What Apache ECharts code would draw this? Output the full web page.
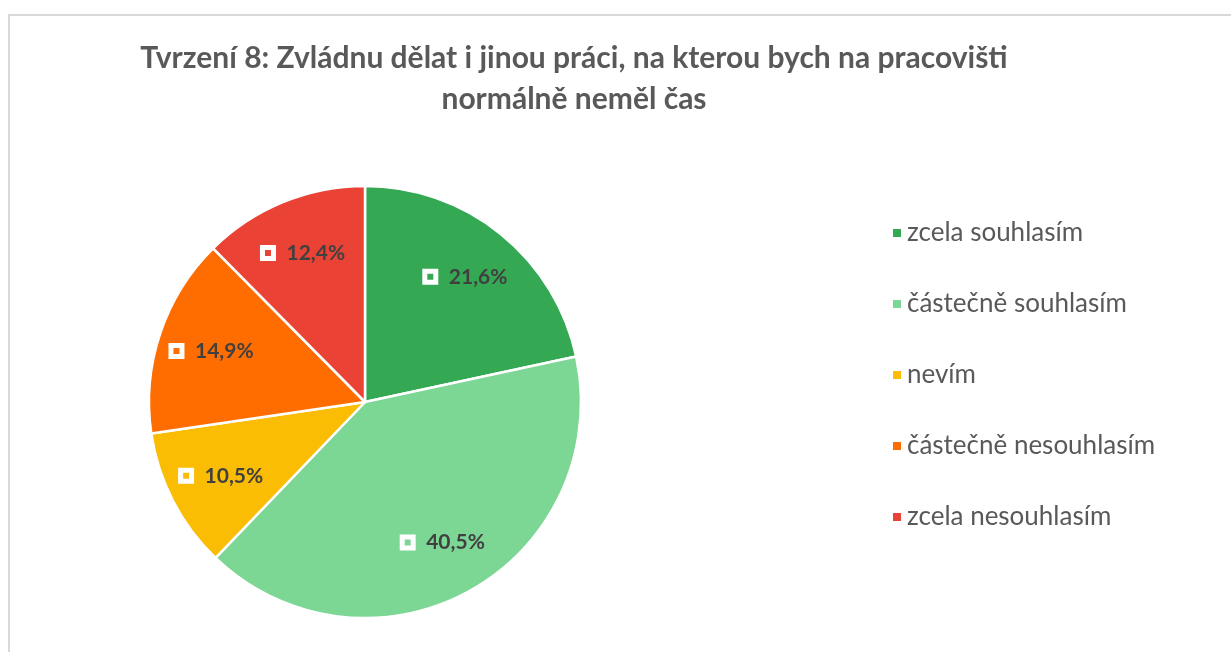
<!DOCTYPE html>
<html>
<head>
<meta charset="utf-8">
<script src="https://cdn.jsdelivr.net/npm/echarts@6/dist/echarts.min.js"></script>
<style>
  * { margin: 0; padding: 0; }
  html, body { width: 1231px; height: 652px; background: #fff; overflow: hidden; }
  #chart { width: 1231px; height: 652px; }
</style>
</head>
<body>
<div id="chart"></div>
<script>
const categories = ['zcela souhlasím', 'částečně souhlasím', 'nevím', 'částečně nesouhlasím', 'zcela nesouhlasím']
const values = [21.6, 40.5, 10.5, 14.9, 12.4]
const colors = ['#34A853', '#7CD694', '#FBBC04', '#FF6D01', '#EA4335']

const data = categories.map((name, i) => ({ name, value: values[i] }))
const fmt = v => v.toFixed(1).replace('.', ',') + '%'

const chart = echarts.init(document.getElementById('chart'))
chart.setOption({
  color: colors,
  animation: false,
  title: {
    text: 'Tvrzení 8: Zvládnu dělat i jinou práci, na kterou bych na pracovišti\nnormálně neměl čas',
    left: 574,
    top: 38,
    textAlign: 'center',
    padding: 0,
    textStyle: {
      fontFamily: 'Lato',
      fontWeight: 'bold',
      fontSize: 30,
      lineHeight: 41,
      color: '#595959'
    }
  },
  legend: {
    orient: 'vertical',
    left: 891,
    top: 220,
    padding: 0,
    itemWidth: 10,
    itemHeight: 10,
    itemGap: 45,
    icon: 'rect',
    data: categories,
    textStyle: {
      fontFamily: 'Lato',
      fontSize: 26,
      lineHeight: 26,
      color: '#595959'
    }
  },
  graphic: [{
    type: 'rect',
    shape: { x: 9, y: 15, width: 1240, height: 660 },
    style: { fill: 'none', stroke: '#d9d9d9', lineWidth: 2 },
    silent: true
  }],
  series: [
    {
      type: 'pie',
      center: [365, 402],
      radius: [0, 216],
      startAngle: 90,
      clockwise: true,
      data: data,
      itemStyle: { borderColor: '#fff', borderWidth: 2.5 },
      label: { show: false },
      labelLine: { show: false },
      emphasis: { disabled: true }
    },
    {
      // invisible helper ring, only used to place the labels further out
      type: 'pie',
      center: [365, 402],
      radius: [0, 316],
      startAngle: 90,
      clockwise: true,
      silent: true,
      legendHoverLink: false,
      data: data,
      itemStyle: { color: 'transparent', borderWidth: 0 },
      labelLine: { show: false },
      emphasis: { disabled: true },
      label: {
        show: true,
        position: 'inside',
        formatter: p => '{b| }{v|' + fmt(p.value) + '}',
        rich: {
          b: {
            width: 11,
            height: 11,
            fontSize: 1,
            lineHeight: 11,
            borderColor: '#fff',
            borderWidth: 2.5,
            backgroundColor: 'rgba(0,0,0,0)'
          },
          v: {
            fontFamily: 'Lato',
            fontWeight: 'bold',
            fontSize: 21,
            color: '#404040',
            padding: [0, 0, 0, 13]
          }
        }
      }
    }
  ]
})
</script>
</body>
</html>
